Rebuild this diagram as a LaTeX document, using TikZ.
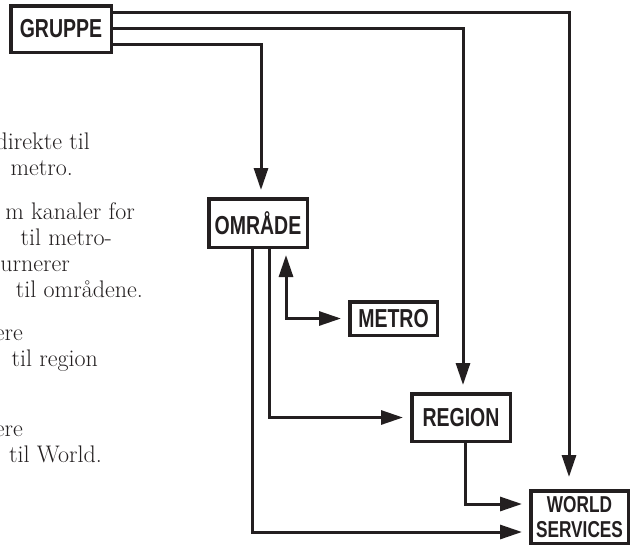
\documentclass[tikz,border=0pt]{standalone}
\usepackage{fontspec}
\newfontfamily\labfont[FakeStretch=0.75]{Liberation Sans}
\usetikzlibrary{arrows.meta}
\definecolor{ink}{HTML}{231F20}
\begin{document}
\begin{tikzpicture}[x=1pt,y=-1pt,
  box/.style={draw=ink, line width=3.5pt, inner sep=0pt, text=ink,
    font=\labfont\bfseries\fontsize{26}{26}\selectfont},
  conn/.style={draw=ink, line width=3pt},
  tip/.tip={Triangle[length=22pt,width=14pt]},
  arr/.style={conn, -tip, shorten >=7pt},
  para/.style={anchor=base east, inner sep=0pt, text=ink,
    font=\fontsize{24}{26}\selectfont}]
\useasboundingbox (0,0) rectangle (632,546);
% boxes
\node[box, minimum width=100.5pt, minimum height=46.5pt] (G) at (61,29) {GRUPPE};
\node[box, minimum width=98.5pt, minimum height=48.5pt] (O) at (258,223) {OMRÅDE};
\node[box, minimum width=87.5pt, minimum height=33.5pt] (M) at (393.5,318.5) {METRO};
\node[box, minimum width=98.5pt, minimum height=47.5pt] (R) at (461,417.5) {REGION};
\node[box, minimum width=97.5pt, minimum height=52.5pt, align=center,
  font=\labfont\bfseries\fontsize{23}{25}\selectfont] (W) at (579.5,517) {WORLD\\SERVICES};
% helper coordinates
\coordinate (y1) at (0,12);
\coordinate (y2) at (0,28);
\coordinate (y3) at (0,44);
\coordinate (x1) at (569,0);
\coordinate (x2) at (463,0);
\coordinate (x3) at (261,0);
\coordinate (xa) at (252,0);
\coordinate (xb) at (269,0);
\coordinate (xc) at (286,0);
\coordinate (xd) at (465,0);
\coordinate (wa) at (0,504);
\coordinate (wb) at (0,532);
% connectors
\draw[arr, shorten >=12pt] (G.east |- y1) -| (x1 |- W.north);
\draw[arr] (G.east |- y2) -| (x2 |- R.north);
\draw[arr] (G.east |- y3) -| (x3 |- O.north);
\draw[arr] (O.south -| xa) |- (W.west |- wb);
\draw[arr] (O.south -| xb) |- (R.west);
\draw[conn, tip-tip, shorten <=6pt, shorten >=7pt] (O.south -| xc) |- (M.west);
\draw[arr] (R.south -| xd) |- (W.west |- wa);
% text column (cut at the left edge)
\node[para] (t1) at (90,149) {direkte til};
\node[para] (t2) at (73,175) {metro.};
\node[para] (t3) at (135,219) {m kanaler for};
\node[para] (t4) at (112,245) {til metro-};
\node[para] (t5) at (70,271) {urnerer};
\node[para] (t6) at (143,297) {til områdene.};
\node[para] (t7) at (23,340) {ere};
\node[para] (t8) at (98,366) {til region};
\node[para] (t9) at (23,436) {ere};
\node[para] (t10) at (102,462) {til World.};
\end{tikzpicture}
\end{document}
